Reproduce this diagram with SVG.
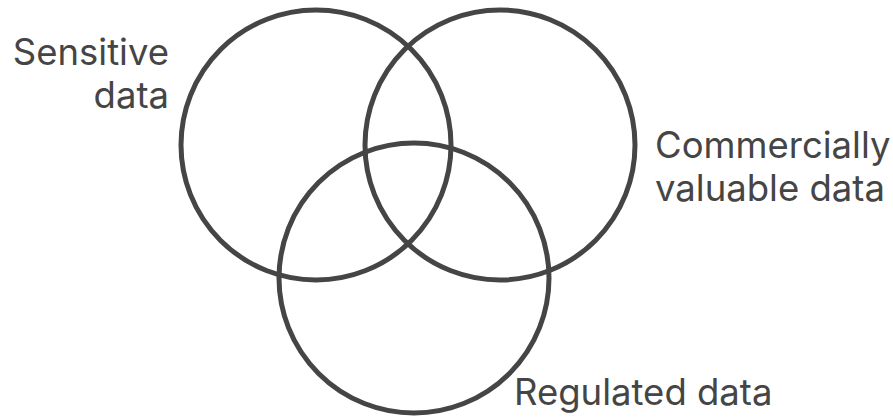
<svg xmlns="http://www.w3.org/2000/svg" width="893" height="418" viewBox="0 0 893 418">
<style>
.c{fill:none;stroke:#454545;stroke-width:5}
.t{font-family:Inter,"Noto Sans",sans-serif;font-size:36.5px;fill:#454545}
</style>
<rect width="893" height="418" fill="#fff"/>
<g id="sensitive">
<circle class="c" cx="316" cy="145" r="135"/>
<text class="t" x="169" y="65" text-anchor="end">Sensitive</text>
<text class="t" x="169" y="108" text-anchor="end">data</text>
</g>
<g id="commercial">
<circle class="c" cx="500" cy="145" r="135"/>
<text class="t" x="655" y="158">Commercially</text>
<text class="t" x="655" y="201">valuable data</text>
</g>
<g id="regulated">
<circle class="c" cx="414" cy="278" r="135"/>
<text class="t" x="514" y="405">Regulated data</text>
</g>
<g id="connectors"></g>
</svg>
